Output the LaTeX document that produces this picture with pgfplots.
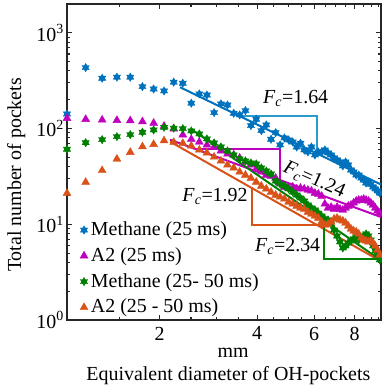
\documentclass[border=0pt]{standalone}
\usepackage{fontspec}
\setmainfont{Liberation Serif}
\usepackage{pgfplots}
\usepackage{pgfplotstable}
\pgfplotsset{compat=1.18}
\definecolor{cblue}{HTML}{0072BD}
\definecolor{cmag}{HTML}{BF00BF}
\definecolor{cgreen}{HTML}{008000}
\definecolor{corange}{HTML}{D95319}
\definecolor{ccyan}{HTML}{2A9BCB}
\pgfdeclareplotmark{hexagram}{%
  \pgfpathmoveto{\pgfqpointpolar{90}{\pgfplotmarksize}}%
  \pgfpathlineto{\pgfqpointpolar{210}{\pgfplotmarksize}}%
  \pgfpathlineto{\pgfqpointpolar{330}{\pgfplotmarksize}}%
  \pgfpathclose
  \pgfpathmoveto{\pgfqpointpolar{270}{\pgfplotmarksize}}%
  \pgfpathlineto{\pgfqpointpolar{30}{\pgfplotmarksize}}%
  \pgfpathlineto{\pgfqpointpolar{150}{\pgfplotmarksize}}%
  \pgfpathclose
  \pgfusepathqfillstroke
}
\pgfplotsset{mylegimg/.style={legend image code/.code={\draw[mark repeat=2,mark phase=2,##1] plot coordinates {(0cm,0cm)(0.3cm,0cm)(0.75cm,0cm)};}}}
\pgfplotstableread{
x     m25   a25   m50   a50
1.036 142   128   60.8  21.1
1.183 433   125   71.2  27.5
1.330 335   123   76.6  36.5
1.477 344   122   82.3  48.1
1.624 344   121   86.4  56.5
1.771 274   118   91.5  64.7
1.918 259   114   96.7  68.5
2.065 247   106   103   74.7
2.212 305   99    101   71.9
2.359 297   86    99.8  70.2
2.506 184   77.3  94.4  65.8
2.653 230   72.4  87.8  59.8
2.800 224   67.4  77.9  55.6
2.947 146.6 64.2  70.7  50.5
3.094 181   58.4  64.2  45.9
3.241 176   54.3  58.4  41.7
3.388 144.5 53    53    38.8
3.535 138.8 49.3  48.2  35.2
3.682 153.9 44.8  45.9  32.7
3.829 107.2 41.7  43.7  30.4
3.976 125   37.9  42.7  27.6
4.123 95.1  35.2  38.8  25.1
4.270 109   32.7  36    23.4
4.417 77.3  31.9  33.5  21.7
4.564 90.6  30.4  28.3  20.2
4.711 67.4  27    26.3  19.3
4.858 79.8  24.5  25.1  18.4
5.005 76    23.9  23.4  17.1
5.152 72.4  24.5  21.7  16.3
5.299 64.2  23.4  20.2  15.5
5.446 70.2  23.9  18.8  14.8
5.593 59.8  23.4  17.5  14.4
5.740 57    22.8  15.9  13.4
5.887 64.2  22.3  14.8  12.8
6.034 53    21.2  14.1  12.2
6.181 57    20.7  13.1  11.6
6.328 57    19.7  12.2  10.57
6.475 59.8  16.3  11.4  9.83
6.622 55.6  14.8  11.09 10.07
6.769 53    15.1  10.07 10.57
6.916 49.3  14.4  8.72  11.36
7.063 47    15.1  7.55  11.6
7.210 44.8  14.4  6.54  11.09
7.357 40.7  14.1  5.66  10.83
7.504 44.8  14.8  5.94  10.32
7.651 41.7  15.5  6.38  9.6
7.798 36.9  15.9  6.70  8.93
7.945 35.2  16.7  7.03  8.51
8.092 32.7  17.5  7.37  8.31
8.239 32.7  17.9  6.86  7.92
8.386 30.4  17.9  7.20  7.20
8.533 29    18.3  7.55  6.86
8.680 27    17.9  7.92  6.70
8.827 27.6  17.5  7.55  6.54
8.974 26.1  16.7  6.86  6.70
9.121 24.5  15.9  5.94  6.38
9.268 23.4  14.8  5.26  5.94
9.415 22.3  13.8  4.78  5.39
9.562 21.2  13.1  4.24  4.78
}\data
\begin{document}
\fontsize{20}{24}\selectfont
\begin{tikzpicture}
\useasboundingbox (-67bp,-69bp) rectangle (315bp,320bp);
\begin{axis}[
  at={(0,0)}, anchor=south west,
  scale only axis, width=314bp, height=316bp,
  xmode=log, ymode=log,
  xmin=1.036, xmax=9.65, ymin=1, ymax=2000,
  xtick={2,4,6,8}, xticklabels={2,4,6,8},
  minor xtick={1.5,2.5,3,3.5,4.5,5,5.5,6.5,7,7.5,8.5,9,9.5},
  ytick={1,10,100,1000},
  yticklabels={10\textsuperscript{0},10\textsuperscript{1},10\textsuperscript{2},10\textsuperscript{3}},
  tick align=inside, major tick length=5pt, minor tick length=3pt,
  axis line style={line width=1.8pt, black!85},
  tick style={line width=1.1pt, black!85},
  yticklabel style={inner xsep=3pt},
  xlabel={Equivalent diameter of OH-pockets},
  xlabel style={at={(axis description cs:0.514,-0.177)}, anchor=center},
  ylabel={Total number of pockets},
  ylabel style={at={(axis description cs:-0.162,0.459)}, anchor=center},
  legend style={at={(axis description cs:0.041,0.326)}, anchor=north west,
    draw=none, fill=none, inner sep=0pt, row sep=0pt,
    nodes={inner xsep=3pt, inner ysep=4.5pt}},
  legend cell align=left,
]
\addplot[only marks, mylegimg, mark=hexagram, mark size=4.2pt, color=cblue] table[x=x,y=m25]{\data};
\addlegendentry{Methane (25 ms)}
\addplot[only marks, mylegimg, mark=triangle*, mark size=4.6pt, color=cmag] table[x=x,y=a25]{\data};
\addlegendentry{A2 (25 ms)}
\addplot[only marks, mylegimg, mark=hexagram, mark size=4.2pt, color=cgreen] table[x=x,y=m50]{\data};
\addlegendentry{Methane (25- 50 ms)}
\addplot[only marks, mylegimg, mark=triangle*, mark size=4.6pt, color=corange] table[x=x,y=a50]{\data};
\addlegendentry{A2 (25 - 50 ms)}
\addplot[cblue, line width=2pt, forget plot] coordinates {(2.314,270) (9.65,26.0)};
\addplot[cmag, line width=2pt, forget plot] coordinates {(2.155,76.4) (9.65,11.9)};
\addplot[cgreen, line width=2pt, forget plot] coordinates {(2.537,95.6) (9.65,4.20)};
\addplot[corange, line width=2pt, forget plot] coordinates {(2.155,73.0) (9.65,4.10)};
\addplot[ccyan, line width=1.6pt, forget plot] coordinates {(3.60,135.4) (6.113,135.4) (6.113,54.9)};
\addplot[cmag, line width=1.6pt, forget plot] coordinates {(2.575,61.3) (4.708,61.3) (4.708,29.0)};
\addplot[corange, line width=1.6pt, forget plot] coordinates {(3.852,24.5) (3.852,9.83) (6.43,9.83)};
\addplot[cgreen, line width=1.6pt, forget plot] coordinates {(6.438,10.82) (6.438,4.31) (9.54,4.31)};
\node[anchor=base] at (axis cs:5.26,183) {\textit{F}\textsubscript{\textit{c}}=1.64};
\node[anchor=base] at (axis cs:2.967,17.2) {\textit{F}\textsubscript{\textit{c}}=1.92};
\node[anchor=base] at (axis cs:4.97,5.17) {\textit{F}\textsubscript{\textit{c}}=2.34};
\node[rotate=-24] at (axis cs:6.0,29.0) {\textit{F}\textsubscript{\textit{c}}=1.24};
\end{axis}
\node[anchor=base] at (166bp,-37bp) {mm};
\end{tikzpicture}
\end{document}
